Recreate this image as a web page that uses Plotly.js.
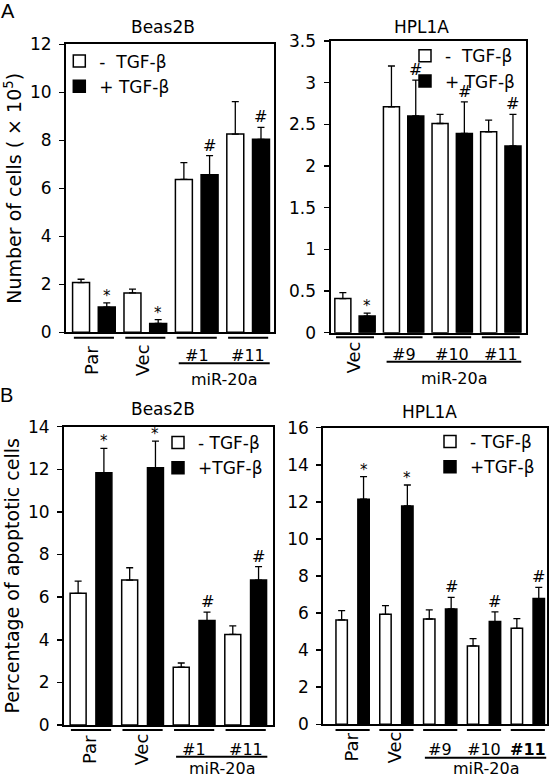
<!DOCTYPE html>
<html><head><meta charset="utf-8">
<script src="https://cdn.plot.ly/plotly-3.0.1.min.js"></script>
<style>html,body{margin:0;padding:0;background:#fff}#chart{width:550px;height:777px}</style>
</head><body><div id="chart"></div>
<script>
// ---------------- data ----------------
// Panel A, Beas2B: number of cells (x10^5)
const beasCellCategories = ['Par', 'Vec', '#1', '#11'];
const beasCellMinus      = [2.07, 1.64, 6.37, 8.26];
const beasCellMinusErr   = [0.14, 0.16, 0.70, 1.35];
const beasCellPlus       = [1.05, 0.37, 6.56, 8.04];
const beasCellPlusErr    = [0.18, 0.16, 0.80, 0.50];
const beasCellMarks      = ['*', '*', '#', '#'];

// Panel A, HPL1A: number of cells (x10^5)
const hplCellCategories = ['Vec', '#9', '#10', '#11'];
const hplCellMinus      = [0.41, 2.71, 2.51, 2.41];
const hplCellMinusErr   = [0.07, 0.49, 0.11, 0.14];
const hplCellPlus       = [0.20, 2.60, 2.39, 2.24];
const hplCellPlusErr    = [0.035, 0.43, 0.38, 0.38];
const hplCellMarks      = ['*', '#', '#', '#'];

// Panel B, Beas2B: percentage of apoptotic cells
const beasApopCategories = ['Par', 'Vec', '#1', '#11'];
const beasApopMinus      = [6.18, 6.80, 2.71, 4.25];
const beasApopMinusErr   = [0.57, 0.58, 0.20, 0.40];
const beasApopPlus       = [11.84, 12.07, 4.90, 6.80];
const beasApopPlusErr    = [1.14, 1.25, 0.40, 0.63];
const beasApopMarks      = ['*', '*', '#', '#'];

// Panel B, HPL1A: percentage of apoptotic cells
const hplApopCategories = ['Par', 'Vec', '#9', '#10', '#11'];
const hplApopMinus      = [5.63, 5.93, 5.68, 4.23, 5.18];
const hplApopMinusErr   = [0.50, 0.47, 0.49, 0.39, 0.52];
const hplApopPlus       = [12.14, 11.78, 6.22, 5.54, 6.78];
const hplApopPlusErr    = [1.22, 1.13, 0.63, 0.52, 0.61];
const hplApopMarks      = ['*', '*', '#', '#', '#'];

const legendNamesA = ['-\u00a0\u00a0TGF-β', '+ TGF-β'];
const legendNamesB = ['- TGF-β', '+TGF-β'];
const cellsTitle = 'Number of cells ( × 10<sup>5</sup>)';
const apopTitle = 'Percentage of apoptotic cells';
const groupLabel = 'miR-20a';

// ---------------- layout helpers ----------------
const W = 550, H = 777;
const FONT = 'DejaVu Sans, Arial, sans-serif';
const fx = p => p / W;
const fy = p => 1 - p / H;

const panels = [
  { cats: beasCellCategories, minus: beasCellMinus, minusErr: beasCellMinusErr, plus: beasCellPlus, plusErr: beasCellPlusErr,
    marks: beasCellMarks, names: legendNamesA, title: 'Beas2B', ytitle: cellsTitle,
    xdom: [66, 274], ydom: [44.3, 332.3], xr: [-0.543, 3.503], yr: [0, 12], dtick: 2, bw: 0.33,
    titleXY: [163, 25], lineY: 337.7, rotY: 360, hashY: 353, mirY: 363.3, mirTextY: 377, leg: [59.3, 43.5], bold: [] },
  { cats: hplCellCategories, minus: hplCellMinus, minusErr: hplCellMinusErr, plus: hplCellPlus, plusErr: hplCellPlusErr,
    marks: hplCellMarks, names: legendNamesA, title: 'HPL1A', ytitle: null,
    xdom: [330.5, 525.7], ydom: [41, 332.7], xr: [-0.504, 3.512], yr: [0, 3.5], dtick: 0.5, bw: 0.33,
    titleXY: [422, 25], lineY: 337.3, rotY: 357.5, hashY: 352, mirY: 361.7, mirTextY: 376, leg: [405, 38.3], bold: [] },
  { cats: beasApopCategories, minus: beasApopMinus, minusErr: beasApopMinusErr, plus: beasApopPlus, plusErr: beasApopPlusErr,
    marks: beasApopMarks, names: legendNamesB, title: 'Beas2B', ytitle: apopTitle,
    xdom: [64, 273], ydom: [426.7, 725], xr: [-0.524, 3.53], yr: [0, 14], dtick: 2, bw: 0.31,
    titleXY: [162.5, 407.5], lineY: 730, rotY: 750, hashY: 747, mirY: 756.7, mirTextY: 766, leg: [158, 425], bold: [] },
  { cats: hplApopCategories, minus: hplApopMinus, minusErr: hplApopMinusErr, plus: hplApopPlus, plusErr: hplApopPlusErr,
    marks: hplApopMarks, names: legendNamesB, title: 'HPL1A', ytitle: null,
    xdom: [323.3, 547], ydom: [427.7, 724.3], xr: [-0.669, 4.438], yr: [0, 16], dtick: 2, bw: 0.26,
    titleXY: [429, 410], lineY: 730, rotY: 747, hashY: 747, mirY: 757.7, mirTextY: 766.5, leg: [430, 424], bold: ['#11'] }
];

const traces = [];
const annotations = [];
const shapes = [];
const layout = {
  width: W, height: H,
  margin: { l: 0, r: 0, t: 0, b: 0, pad: 0 },
  paper_bgcolor: '#fff', plot_bgcolor: '#fff',
  barmode: 'group',
  showlegend: true,
  font: { family: FONT, color: '#000', size: 17 }
};

function textAt(text, cx, cy, size, extra) {
  return Object.assign({
    text: text, xref: 'paper', yref: 'paper', x: fx(cx), y: fy(cy + 2),
    xanchor: 'center', yanchor: 'middle', showarrow: false,
    font: { family: FONT, size: size, color: '#000' }
  }, extra || {});
}

panels.forEach((p, k) => {
  const s = k === 0 ? '' : String(k + 1);
  const xa = 'x' + s, ya = 'y' + s, lg = 'legend' + s;
  const zeros = p.cats.map(() => 0);

  traces.push({
    type: 'bar', x: p.cats, y: p.minus, name: p.names[0], xaxis: xa, yaxis: ya, legend: lg,
    width: p.bw, offset: -0.25 - p.bw / 2,
    marker: { color: '#ffffff', line: { color: '#000', width: 1.5 } },
    error_y: { type: 'data', symmetric: false, array: p.minusErr, arrayminus: zeros, color: '#000', thickness: 1.3, width: 3.5 },
    hoverinfo: 'skip'
  });
  traces.push({
    type: 'bar', x: p.cats, y: p.plus, name: p.names[1], xaxis: xa, yaxis: ya, legend: lg,
    width: p.bw, offset: 0.25 - p.bw / 2,
    marker: { color: '#000000', line: { color: '#000', width: 1.5 } },
    error_y: { type: 'data', symmetric: false, array: p.plusErr, arrayminus: zeros, color: '#000', thickness: 1.3, width: 3.5 },
    hoverinfo: 'skip'
  });

  layout['xaxis' + s] = {
    domain: [fx(p.xdom[0]), fx(p.xdom[1])], anchor: ya, type: 'category',
    categoryorder: 'array', categoryarray: p.cats, range: p.xr,
    showticklabels: false, ticks: '', showline: true, linewidth: 2, linecolor: '#000', mirror: true,
    showgrid: false, zeroline: false, fixedrange: true
  };
  layout['yaxis' + s] = {
    domain: [fy(p.ydom[1]), fy(p.ydom[0])], anchor: xa, range: p.yr, dtick: p.dtick, tick0: 0,
    ticks: 'outside', ticklen: 5, tickwidth: 1.5, tickcolor: '#000',
    showline: true, linewidth: 2, linecolor: '#000', mirror: true,
    showgrid: false, zeroline: false, fixedrange: true,
    tickfont: { family: FONT, size: 17, color: '#000' }, ticklabelstandoff: 4
  };
  if (p.ytitle) {
    layout['yaxis' + s].title = { text: p.ytitle, font: { family: FONT, size: 19, color: '#000' }, standoff: 3 };
  }
  layout[lg] = {
    x: fx(p.leg[0]), y: fy(p.leg[1]), xanchor: 'left', yanchor: 'top',
    bgcolor: 'rgba(0,0,0,0)', borderwidth: 0, traceorder: 'normal',
    font: { family: FONT, size: 17, color: '#000' }
  };

  // significance marks above the + TGF-β bars
  p.marks.forEach((m, i) => {
    if (!m) return;
    annotations.push({
      xref: xa, yref: ya, x: i + 0.25, y: p.plus[i] + p.plusErr[i],
      text: m, showarrow: false, xanchor: 'center', yanchor: 'bottom',
      yshift: m === '*' ? -4 : -1,
      font: { family: FONT, size: m === '*' ? 15 : 16, color: '#000' }
    });
  });

  // group underlines and group labels
  const mirIdx = [];
  p.cats.forEach((c, i) => {
    shapes.push({ type: 'line', xref: xa, yref: 'paper', x0: i - 0.39, x1: i + 0.39,
      y0: fy(p.lineY), y1: fy(p.lineY), line: { color: '#000', width: 2 } });
    const isMir = c.charAt(0) === '#';
    if (isMir) mirIdx.push(i);
    const txt = p.bold.indexOf(c) >= 0 ? '<b>' + c + '</b>' : c;
    annotations.push({
      xref: xa, yref: 'paper', x: i, y: fy(isMir ? p.hashY + 2 : p.rotY),
      xshift: isMir ? 0 : -2,
      text: txt, textangle: isMir ? 0 : -90, showarrow: false,
      xanchor: 'center', yanchor: 'middle',
      font: { family: FONT, size: isMir ? 16 : 18, color: '#000' }
    });
  });
  const x0 = mirIdx[0] - 0.35, x1 = mirIdx[mirIdx.length - 1] + 0.42;
  shapes.push({ type: 'line', xref: xa, yref: 'paper', x0: x0, x1: x1,
    y0: fy(p.mirY), y1: fy(p.mirY), line: { color: '#000', width: 2 } });
  annotations.push({
    xref: xa, yref: 'paper', x: (x0 + x1) / 2, y: fy(p.mirTextY + 2),
    text: groupLabel, showarrow: false, xanchor: 'center', yanchor: 'middle',
    font: { family: FONT, size: 16, color: '#000' }
  });

  annotations.push(textAt(p.title, p.titleXY[0], p.titleXY[1], 17));
});

annotations.push(textAt('A', 8.3, 9.2, 20, { font: { family: 'Liberation Sans, Arial, sans-serif', size: 20, color: '#000' } }));
annotations.push(textAt('B', 6.7, 392.5, 20, { font: { family: 'Liberation Sans, Arial, sans-serif', size: 20, color: '#000' } }));

layout.annotations = annotations;
layout.shapes = shapes;

Plotly.newPlot('chart', traces, layout, { staticPlot: true, displayModeBar: false });
</script>
</body></html>
